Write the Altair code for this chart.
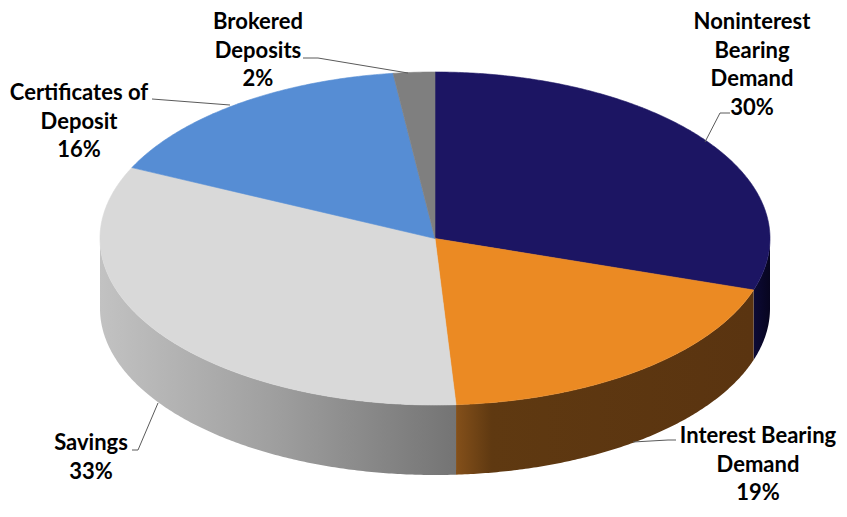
import math
import altair as alt

# ---------------- data ----------------
categories = ["Noninterest Bearing Demand", "Interest Bearing Demand", "Savings",
              "Certificates of Deposit", "Brokered Deposits"]
shares = [30, 19, 33, 16, 2]
label_lines = [["Noninterest", "Bearing", "Demand"], ["Interest Bearing", "Demand"],
               ["Savings"], ["Certificates of", "Deposit"], ["Brokered", "Deposits"]]

# ---------------- styles ----------------
top_colors = ["#1C1563", "#EB8A23", "#D9D9D9", "#568DD4", "#7F7F7F"]
side_stops = [
    [("#0C0A36", 0), ("#07051F", 1)],
    [("#84501A", 0), ("#5F3911", 0.12), ("#5A3410", 1)],
    [("#C2C2C2", 0), ("#9E9E9E", 0.5), ("#747474", 1)],
    [("#3E6CA8", 0), ("#2E5486", 1)],
    [("#606060", 0), ("#4A4A4A", 1)],
]

# ---------------- layout (chart pixel space) ----------------
W, H = 831, 501
CX, CY, RX, RY, DEPTH = 427, 230.5, 335, 166.5, 70
# (x centre, y of first line centre)
label_pos = [(744, 14), (750, 428), (83, 435), (71, 85), (250, 14)]
leaders = [
    [(722, 105), (712, 105), (697, 134)],
    [(625, 434), (660, 432), (668, 432)],
    [(124, 442), (130, 442), (150, 395)],
    [(144, 91), (222, 97)],
    [(295, 50), (310, 50), (400, 65)],
]
PROJ = dict(type="identity", scale=1, translate=[0, 0])


def pt(theta_deg, dy=0.0):
    t = math.radians(theta_deg)
    return [CX + RX * math.sin(t), CY - RY * math.cos(t) + dy]


def arc(a0, a1, dy=0.0):
    n = max(2, int(abs(a1 - a0) / 0.5) + 1)
    return [pt(a0 + (a1 - a0) * i / (n - 1), dy) for i in range(n)]


total = sum(shares)
bounds = []
cum = 0
for s in shares:
    a0 = 360.0 * cum / total
    cum += s
    bounds.append((a0, 360.0 * cum / total))

# top faces
top_features = []
for cat, col, (a0, a1) in zip(categories, top_colors, bounds):
    ring = [[CX, CY]] + arc(a0, a1) + [[CX, CY]]
    top_features.append({"type": "Feature", "properties": {"name": cat, "fill": col},
                         "geometry": {"type": "Polygon", "coordinates": [ring]}})

layers = []
# side walls (front half only)
for cat, stops, (a0, a1) in zip(categories, side_stops, bounds):
    lo, hi = max(a0, 90.0), min(a1, 270.0)
    if lo >= hi:
        continue
    top_edge = arc(lo, hi)
    bot_edge = arc(hi, lo, DEPTH)
    ring = top_edge + bot_edge + [top_edge[0]]
    feat = {"type": "Feature", "properties": {"name": cat},
            "geometry": {"type": "Polygon", "coordinates": [ring]}}
    grad = alt.Gradient(gradient="linear", x1=0, x2=1, y1=0, y2=0,
                        stops=[alt.GradientStop(color=c, offset=o) for c, o in stops])
    layers.append(
        alt.Chart(alt.Data(values=[feat])).mark_geoshape(fill=grad, stroke=None, strokeWidth=0)
        .encode(tooltip=alt.value(cat)).project(**PROJ)
    )

layers.append(
    alt.Chart(alt.Data(values=top_features)).mark_geoshape(strokeWidth=0.6)
    .encode(fill=alt.Fill("properties.fill:N", scale=None),
            stroke=alt.Stroke("properties.fill:N", scale=None))
    .project(**PROJ)
)

# leader lines
leader_features = [{"type": "Feature", "properties": {"name": c},
                    "geometry": {"type": "LineString", "coordinates": [list(p) for p in pl]}}
                   for c, pl in zip(categories, leaders)]
layers.append(
    alt.Chart(alt.Data(values=leader_features))
    .mark_geoshape(filled=False, stroke="#5A5A5A", strokeWidth=1)
    .project(**PROJ)
)

# labels
label_rows = []
for lines, s, (x, y) in zip(label_lines, shares, label_pos):
    label_rows.append({"x": x, "y": y, "t": "\n".join(lines + [f"{s}%"])})
layers.append(
    alt.Chart(alt.Data(values=label_rows))
    .mark_text(font="Lato", fontWeight="bold", fontSize=22, lineHeight=28.5,
               lineBreak="\n", align="center", baseline="middle", color="#000000")
    .encode(longitude="x:Q", latitude="y:Q", text="t:N")
    .project(**PROJ)
)

chart = (
    alt.layer(*layers)
    .properties(width=W, height=H, padding=0, autosize=alt.AutoSizeParams(type="none"),
                background="white")
    .configure_view(stroke=None)
)

chart.save("out.html", embed_options={"renderer": "svg", "actions": False})
